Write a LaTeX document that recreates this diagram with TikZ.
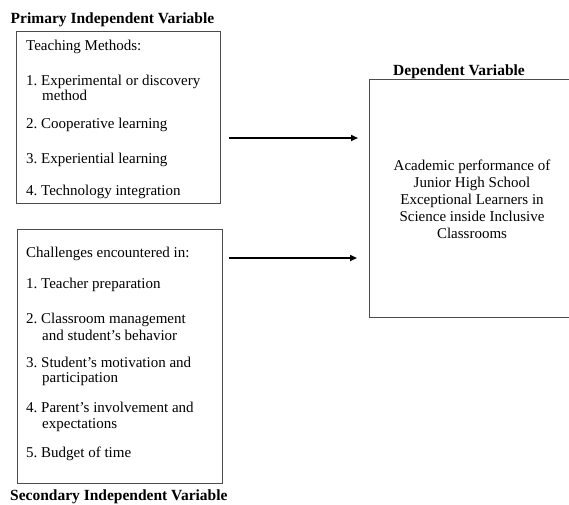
\documentclass[tikz,border=0pt]{standalone}
\usepackage{fontspec}
\setmainfont{Liberation Serif}
\usepackage{tikz}
\usetikzlibrary{arrows.meta, positioning}

\tikzset{
  varbox/.style={draw=black!70, line width=1.1pt, inner sep=0pt},
  vartitle/.style={anchor=base west, inner sep=0pt, font=\fontsize{15.5}{18}\selectfont\bfseries},
  item/.style={anchor=base west, inner sep=0pt, font=\fontsize{15}{18}\selectfont},
  link/.style={-{Triangle[length=7pt, width=6pt]}, line width=1.6pt}
}

\begin{document}
\frenchspacing
\begin{tikzpicture}[x=1pt, y=-1pt]
  \useasboundingbox (0,0) rectangle (569,504);
  % ── Primary independent variable ─────────────────────────────
  \node[vartitle] (ptitle) at (10.5,23.5) {Primary Independent Variable};
  \node[varbox, minimum width=204.5pt, minimum height=172.5pt, anchor=north west]
    (teach) at (15.7,30.7) {};
  \foreach \y/\x/\txt in {50/26/Teaching Methods:,
                          85/26/1. Experimental or discovery,
                          100/42/method,
                          128/26/2. Cooperative learning,
                          163/26/3. Experiential learning,
                          195/26/4. Technology integration}
    \node[item] at (\x,\y) {\txt};
  % ── Secondary independent variable ───────────────────────────
  \node[varbox, minimum width=205pt, minimum height=254pt, anchor=north west]
    (chal) at (16.5,228.5) {};
  \foreach \y/\x/\txt in {257/26/Challenges encountered in:,
                          288/26/1. Teacher preparation,
                          323/26/2. Classroom management,
                          340/42/and student’s behavior,
                          367/26/3. Student’s motivation and,
                          382/42/participation,
                          412/26/4. Parent’s involvement and,
                          428/42/expectations,
                          457/26/5. Budget of time}
    \node[item] at (\x,\y) {\txt};
  \node[vartitle] (stitle) at (10,500) {Secondary Independent Variable};
  % ── Dependent variable (runs past the right edge) ────────────
  \node[varbox, minimum width=206pt, minimum height=238pt, anchor=north west]
    (dv) at (369,79) {};
  \node[vartitle] (dtitle) at (393,75) {Dependent Variable};
  % base anchor sits on the last line here
  \node[font=\fontsize{15}{17}\selectfont, align=center, inner sep=0pt, anchor=base]
    (outcome) at (472,238)
    {Academic performance of\\Junior High School\\Exceptional Learners in\\
     Science inside Inclusive\\Classrooms};
  % ── Arrows into the dependent variable ───────────────────────
  \draw[link] ([xshift=8pt]teach.east |- 0,138) -- ([xshift=-11pt]dv.west |- 0,138);
  \draw[link] ([xshift=6pt]chal.east |- 0,258) -- ([xshift=-12pt]dv.west |- 0,258);
\end{tikzpicture}
\end{document}
